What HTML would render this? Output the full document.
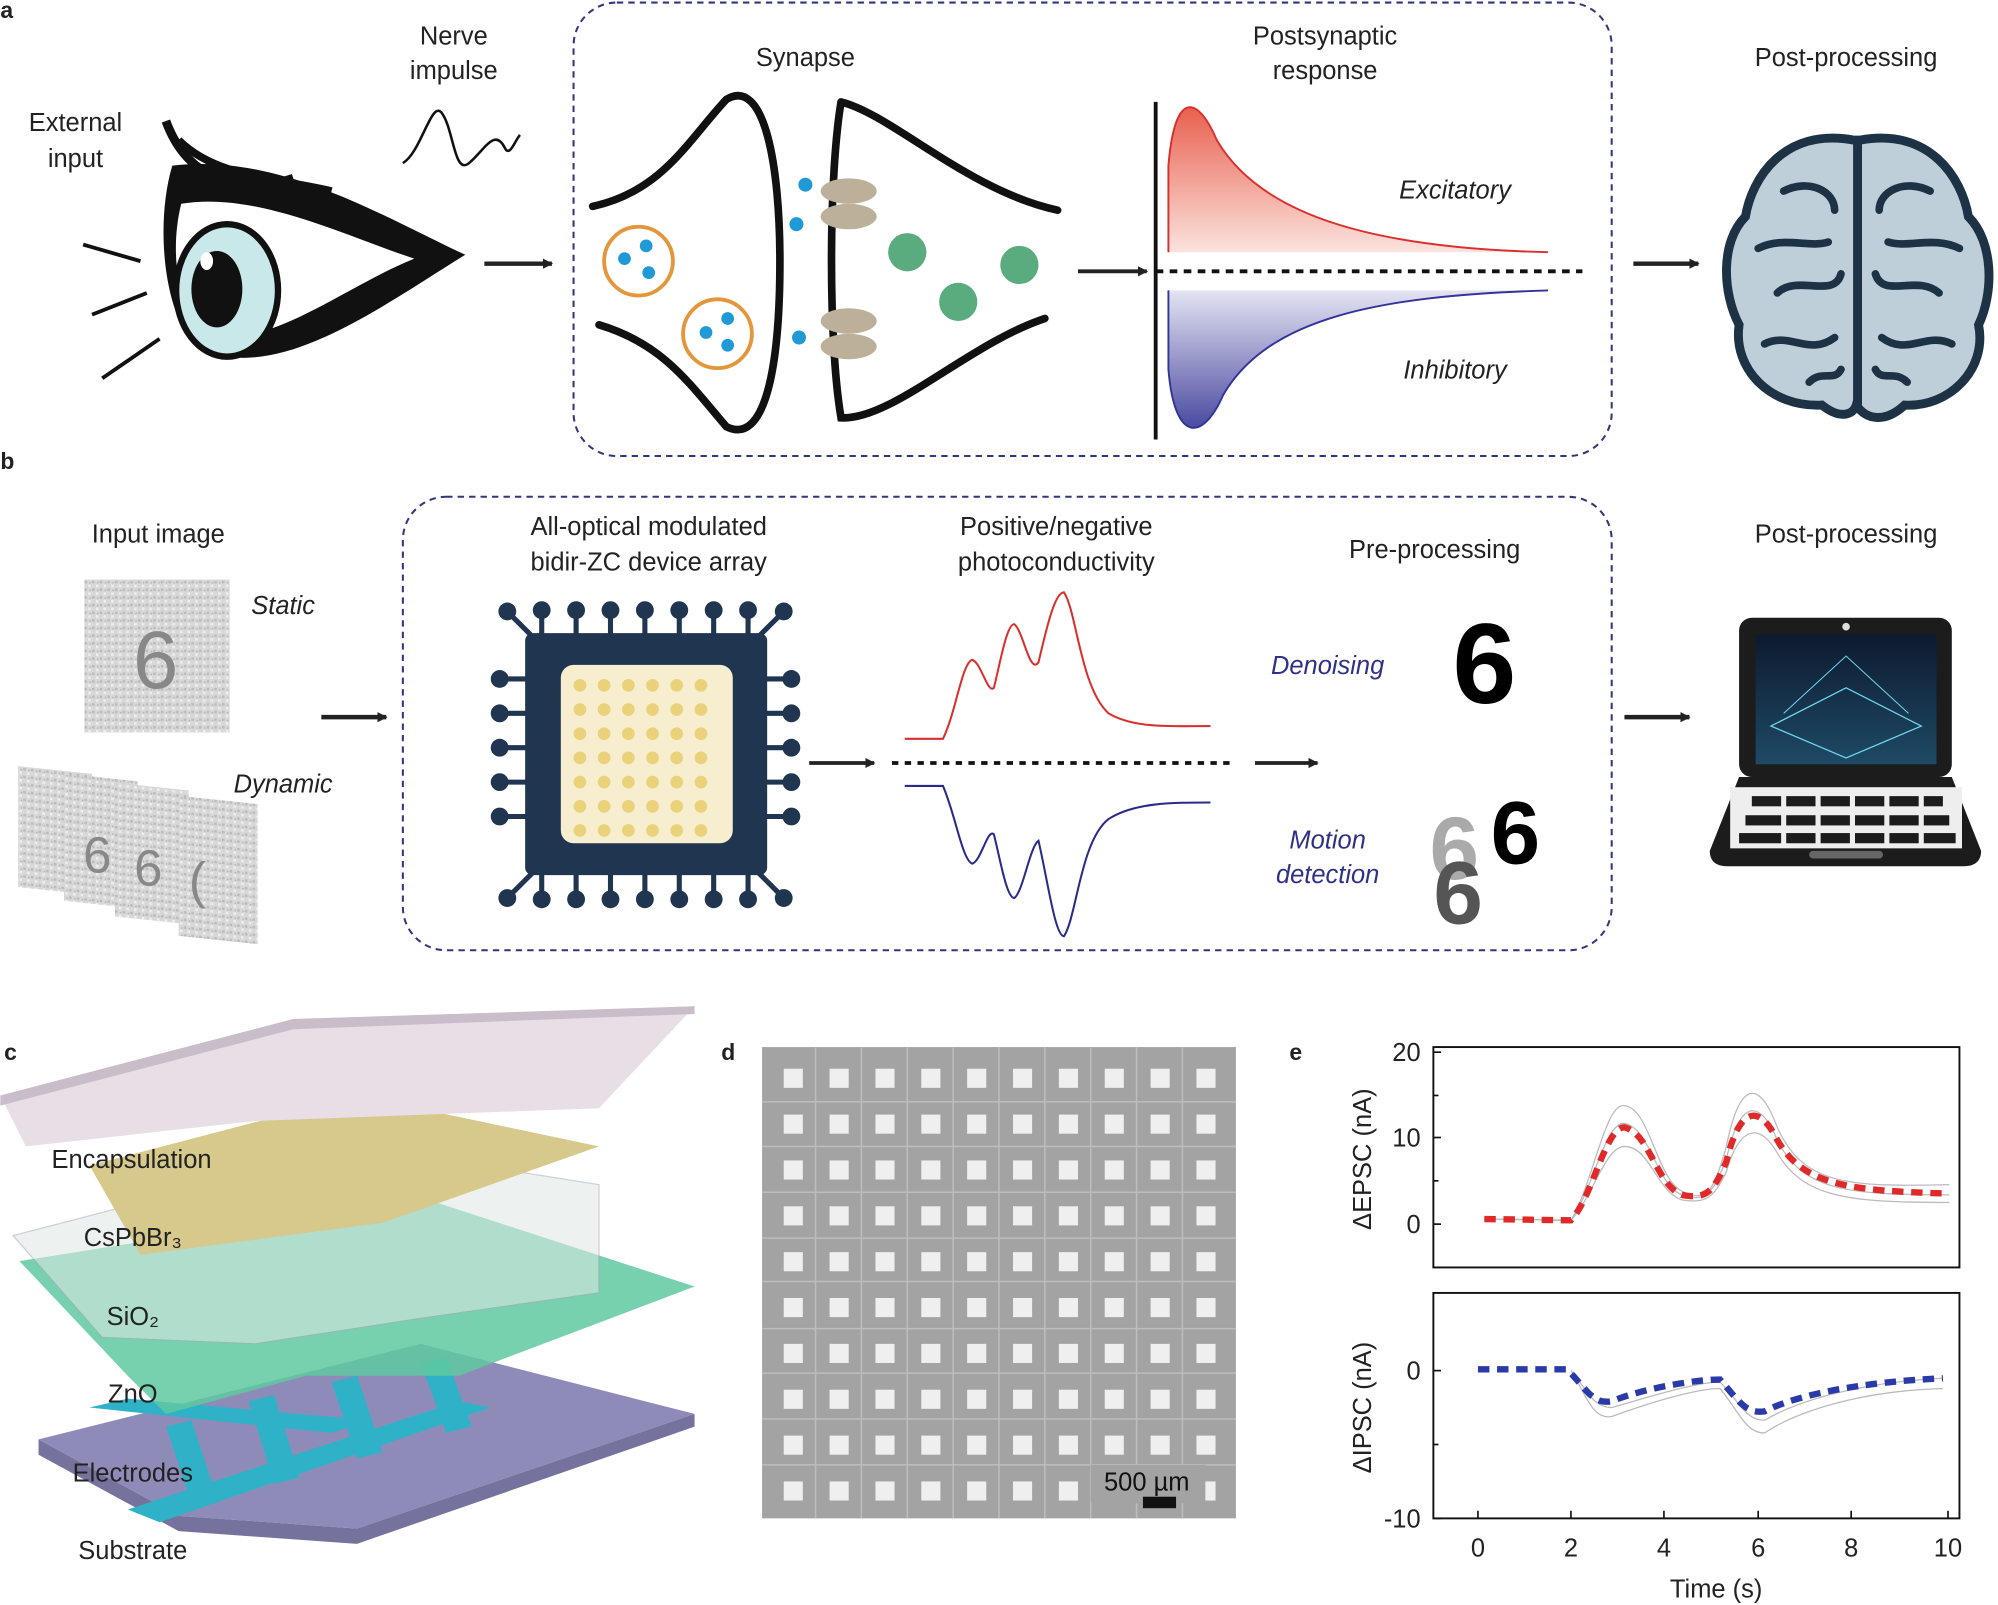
<!DOCTYPE html>
<html><head><meta charset="utf-8"><style>
html,body{margin:0;padding:0;background:#fff}
svg{display:block}
text{font-family:"Liberation Sans",Arial,sans-serif;fill:#222}
</style></head><body>
<svg width="1998" height="1605" viewBox="0 0 1568 1260" xmlns="http://www.w3.org/2000/svg">
<defs>
<marker id="ar" markerWidth="8" markerHeight="8" refX="7" refY="4" orient="auto" markerUnits="userSpaceOnUse"><path d="M0,0 L8,4 L0,8 z" fill="#222"/></marker>
<linearGradient id="exc" x1="0" y1="0" x2="0" y2="1"><stop offset="0" stop-color="#e8604f"/><stop offset="1" stop-color="#fbe3de"/></linearGradient>
<linearGradient id="inh" x1="0" y1="1" x2="0" y2="0"><stop offset="0" stop-color="#4a4aa0"/><stop offset="1" stop-color="#e4e4f3"/></linearGradient>
<linearGradient id="scr" x1="0" y1="0" x2="0" y2="1"><stop offset="0" stop-color="#0d1a2e"/><stop offset="1" stop-color="#1e4a66"/></linearGradient>
<pattern id="noise" width="6" height="6" patternUnits="userSpaceOnUse"><rect width="6" height="6" fill="#d8d8d8"/><rect width="2" height="2" fill="#bbb"/><rect x="3" y="3" width="2" height="2" fill="#eee"/><rect x="4" y="1" width="1" height="1" fill="#aaa"/></pattern>
</defs>

<text x="0" y="14" font-size="18" font-weight="bold">a</text>
<text x="0" y="368" font-size="18" font-weight="bold">b</text>
<text x="3" y="832" font-size="18" font-weight="bold">c</text>
<text x="566" y="832" font-size="18" font-weight="bold">d</text>
<text x="1012" y="832" font-size="18" font-weight="bold">e</text>

<text x="59" y="103" font-size="20" text-anchor="middle">External</text>
<text x="59" y="131" font-size="20" text-anchor="middle">input</text>
<text x="356" y="35" font-size="20" text-anchor="middle">Nerve</text>
<text x="356" y="62" font-size="20" text-anchor="middle">impulse</text>
<path d="M316,128 C330,120 338,80 346,88 C356,100 356,138 368,128 C380,118 388,100 396,116 C400,124 404,110 408,106" stroke="#111" stroke-width="2" fill="none"/>
<g stroke="#111" stroke-width="3"><line x1="65" y1="192" x2="110" y2="205"/><line x1="72" y1="247" x2="115" y2="230"/><line x1="80" y1="297" x2="125" y2="266"/></g>
<path d="M135,130 C220,120 300,170 365,200 C300,240 220,300 160,275 C130,260 120,180 135,130 z" fill="#111"/>
<path d="M142,160 C200,150 270,185 325,203 C270,225 210,275 165,262 C140,250 132,200 142,160 z" fill="#fff"/>
<ellipse cx="178" cy="228" rx="40" ry="52" fill="#c9e8ea" stroke="#111" stroke-width="5"/>
<ellipse cx="170" cy="227" rx="20" ry="30" fill="#111"/>
<ellipse cx="162" cy="205" rx="5" ry="7" fill="#fff"/>
<path d="M130,95 C150,150 200,150 230,140" stroke="#111" stroke-width="7" fill="none"/>
<path d="M140,110 C170,140 220,140 260,150" stroke="#111" stroke-width="6" fill="none"/>
<line x1="380" y1="207" x2="433" y2="207" stroke="#222" stroke-width="3.5" marker-end="url(#ar)"/>

<rect x="450" y="2" width="815" height="356" rx="34" fill="none" stroke="#33367a" stroke-width="1.6" stroke-dasharray="5,4"/>
<text x="632" y="52" font-size="20" text-anchor="middle">Synapse</text>
<text x="1040" y="35" font-size="20" text-anchor="middle">Postsynaptic</text>
<text x="1040" y="62" font-size="20" text-anchor="middle">response</text>
<path d="M465,162 C520,150 540,110 570,78 C600,60 612,130 612,205 C612,290 600,350 570,335 C540,300 520,270 470,255" stroke="#111" stroke-width="6" fill="none" stroke-linecap="round"/>
<path d="M660,80 C650,140 650,270 660,328 C700,330 760,270 820,250 M660,80 C700,90 760,150 830,165" stroke="#111" stroke-width="6" fill="none" stroke-linecap="round"/>
<circle cx="501" cy="205" r="27" fill="none" stroke="#e3963a" stroke-width="3"/>
<circle cx="563" cy="262" r="27" fill="none" stroke="#e3963a" stroke-width="3"/>
<g fill="#1f9ad6"><circle cx="490" cy="203" r="5"/><circle cx="507" cy="193" r="5"/><circle cx="509" cy="214" r="5"/><circle cx="554" cy="261" r="5"/><circle cx="571" cy="250" r="5"/><circle cx="571" cy="271" r="5"/><circle cx="632" cy="145" r="5.5"/><circle cx="625" cy="176" r="5.5"/><circle cx="627" cy="265" r="5.5"/></g>
<g fill="#bdb09a"><ellipse cx="666" cy="150" rx="22" ry="10"/><ellipse cx="666" cy="170" rx="22" ry="10"/><ellipse cx="666" cy="252" rx="22" ry="10"/><ellipse cx="666" cy="272" rx="22" ry="10"/></g>
<g fill="#5aac7e"><circle cx="712" cy="198" r="15"/><circle cx="800" cy="208" r="15"/><circle cx="752" cy="237" r="15"/></g>
<line x1="846" y1="213" x2="900" y2="213" stroke="#222" stroke-width="3" marker-end="url(#ar)"/>
<path d="M917,198 L917,130 C922,70 940,75 955,110 C990,170 1080,195 1215,198 L1215,198 z" fill="url(#exc)"/>
<path d="M917,198 L917,130 C922,70 940,75 955,110 C990,170 1080,195 1215,198" stroke="#d8302e" stroke-width="1.5" fill="none"/>
<path d="M917,228 L917,290 C922,350 945,345 960,310 C995,250 1080,232 1215,228 z" fill="url(#inh)"/>
<path d="M917,228 L917,290 C922,350 945,345 960,310 C995,250 1080,232 1215,228" stroke="#33339a" stroke-width="1.5" fill="none"/>
<line x1="907" y1="80" x2="907" y2="345" stroke="#111" stroke-width="3"/>
<line x1="907" y1="213" x2="1242" y2="213" stroke="#111" stroke-width="3" stroke-dasharray="6,5"/>
<text x="1142" y="156" font-size="20" font-style="italic" text-anchor="middle">Excitatory</text>
<text x="1142" y="297" font-size="20" font-style="italic" text-anchor="middle">Inhibitory</text>
<line x1="1282" y1="207" x2="1333" y2="207" stroke="#222" stroke-width="3.5" marker-end="url(#ar)"/>
<text x="1449" y="52" font-size="20" text-anchor="middle">Post-processing</text>
<g>
<path d="M1455,110 C1400,100 1375,140 1370,170 C1350,190 1352,230 1365,255 C1360,290 1390,320 1430,318 C1445,330 1455,325 1457,318 C1465,330 1480,332 1495,318 C1530,320 1560,290 1553,255 C1565,230 1565,190 1545,170 C1540,140 1515,100 1460,110 z" fill="#bfcfda" stroke="#1d3345" stroke-width="7"/>
<line x1="1458" y1="112" x2="1458" y2="318" stroke="#1d3345" stroke-width="7"/>
<g stroke="#1d3345" stroke-width="6" fill="none" stroke-linecap="round">
<path d="M1400,150 C1420,140 1440,150 1440,165"/><path d="M1380,195 C1400,185 1420,195 1435,190"/><path d="M1395,230 C1410,215 1440,235 1445,215"/><path d="M1385,270 C1405,260 1420,280 1440,265"/><path d="M1420,300 C1430,290 1440,300 1445,290"/>
<path d="M1515,150 C1495,140 1475,150 1475,165"/><path d="M1538,195 C1518,185 1498,195 1482,190"/><path d="M1522,230 C1505,215 1478,235 1472,215"/><path d="M1532,270 C1512,260 1497,280 1477,265"/><path d="M1497,300 C1487,290 1477,300 1472,290"/>
</g></g>

<text x="124" y="426" font-size="20" text-anchor="middle">Input image</text>
<rect x="66" y="455" width="114" height="120" fill="url(#noise)"/>
<text x="122" y="540" font-size="64" text-anchor="middle" style="fill:#888">6</text>
<text x="222" y="482" font-size="20" font-style="italic" text-anchor="middle">Static</text>
<text x="222" y="622" font-size="20" font-style="italic" text-anchor="middle">Dynamic</text>
<g>
<rect x="14" y="605" width="58" height="95" fill="url(#noise)" transform="skewY(6) translate(0,-5)"/>
<rect x="50" y="612" width="58" height="100" fill="url(#noise)" transform="skewY(6) translate(0,-10)"/>
<rect x="90" y="620" width="58" height="105" fill="url(#noise)" transform="skewY(6) translate(0,-15)"/>
<rect x="140" y="630" width="62" height="110" fill="url(#noise)" transform="skewY(6) translate(0,-20)"/>
<text x="65" y="685" font-size="40" style="fill:#888">6</text><text x="105" y="695" font-size="40" style="fill:#888">6</text><text x="148" y="705" font-size="40" style="fill:#888">(</text>
</g>
<line x1="252" y1="563" x2="303" y2="563" stroke="#222" stroke-width="3.5" marker-end="url(#ar)"/>
<rect x="316" y="390" width="949" height="356" rx="34" fill="none" stroke="#33367a" stroke-width="1.6" stroke-dasharray="5,4"/>
<text x="509" y="420" font-size="20" text-anchor="middle">All-optical modulated</text>
<text x="509" y="448" font-size="20" text-anchor="middle">bidir-ZC device array</text>
<text x="829" y="420" font-size="20" text-anchor="middle">Positive/negative</text>
<text x="829" y="448" font-size="20" text-anchor="middle">photoconductivity</text>
<text x="1126" y="438" font-size="20" text-anchor="middle">Pre-processing</text>
<g fill="#1f3550" stroke="#1f3550">
<g stroke-width="4">
<line x1="425" y1="480" x2="425" y2="505"/><line x1="452" y1="480" x2="452" y2="505"/><line x1="479" y1="480" x2="479" y2="505"/><line x1="506" y1="480" x2="506" y2="505"/><line x1="533" y1="480" x2="533" y2="505"/><line x1="560" y1="480" x2="560" y2="505"/><line x1="587" y1="480" x2="587" y2="505"/>
<line x1="425" y1="680" x2="425" y2="705"/><line x1="452" y1="680" x2="452" y2="705"/><line x1="479" y1="680" x2="479" y2="705"/><line x1="506" y1="680" x2="506" y2="705"/><line x1="533" y1="680" x2="533" y2="705"/><line x1="560" y1="680" x2="560" y2="705"/><line x1="587" y1="680" x2="587" y2="705"/>
<line x1="392" y1="533" x2="420" y2="533"/><line x1="392" y1="560" x2="420" y2="560"/><line x1="392" y1="587" x2="420" y2="587"/><line x1="392" y1="614" x2="420" y2="614"/><line x1="392" y1="641" x2="420" y2="641"/>
<line x1="595" y1="533" x2="620" y2="533"/><line x1="595" y1="560" x2="620" y2="560"/><line x1="595" y1="587" x2="620" y2="587"/><line x1="595" y1="614" x2="620" y2="614"/><line x1="595" y1="641" x2="620" y2="641"/>
<line x1="398" y1="480" x2="420" y2="502"/><line x1="615" y1="480" x2="593" y2="502"/><line x1="398" y1="705" x2="420" y2="683"/><line x1="615" y1="705" x2="593" y2="683"/>
</g>
<g stroke="none">
<circle cx="425" cy="479" r="7"/><circle cx="452" cy="479" r="7"/><circle cx="479" cy="479" r="7"/><circle cx="506" cy="479" r="7"/><circle cx="533" cy="479" r="7"/><circle cx="560" cy="479" r="7"/><circle cx="587" cy="479" r="7"/>
<circle cx="425" cy="706" r="7"/><circle cx="452" cy="706" r="7"/><circle cx="479" cy="706" r="7"/><circle cx="506" cy="706" r="7"/><circle cx="533" cy="706" r="7"/><circle cx="560" cy="706" r="7"/><circle cx="587" cy="706" r="7"/>
<circle cx="392" cy="533" r="7"/><circle cx="392" cy="560" r="7"/><circle cx="392" cy="587" r="7"/><circle cx="392" cy="614" r="7"/><circle cx="392" cy="641" r="7"/>
<circle cx="621" cy="533" r="7"/><circle cx="621" cy="560" r="7"/><circle cx="621" cy="587" r="7"/><circle cx="621" cy="614" r="7"/><circle cx="621" cy="641" r="7"/>
<circle cx="398" cy="480" r="7"/><circle cx="615" cy="480" r="7"/><circle cx="398" cy="705" r="7"/><circle cx="615" cy="705" r="7"/>
<rect x="412" y="497" width="190" height="190" rx="6"/>
</g></g>
<rect x="440" y="522" width="135" height="140" rx="10" fill="#f7eed0"/>
<g fill="#ead27b" id="dr">
<circle cx="455" cy="538" r="5"/><circle cx="474" cy="538" r="5"/><circle cx="493" cy="538" r="5"/><circle cx="512" cy="538" r="5"/><circle cx="531" cy="538" r="5"/><circle cx="550" cy="538" r="5"/>
</g>
<use href="#dr" y="19"/><use href="#dr" y="38"/><use href="#dr" y="57"/><use href="#dr" y="76"/><use href="#dr" y="95"/><use href="#dr" y="114"/>
<line x1="635" y1="599" x2="686" y2="599" stroke="#222" stroke-width="3" marker-end="url(#ar)"/>
<path d="M710,580 L740,580 C750,560 755,520 763,518 C770,520 775,545 780,540 C785,520 790,490 796,490 C803,495 808,530 815,520 C822,490 828,465 835,465 C845,480 848,540 870,560 C890,572 920,570 950,570" stroke="#d8302e" stroke-width="1.6" fill="none"/>
<path d="M710,617 L740,617 C750,640 755,675 763,678 C770,676 775,650 780,655 C785,675 790,705 796,705 C803,700 808,665 815,660 C822,690 828,735 835,735 C845,720 848,660 870,643 C890,630 920,630 950,630" stroke="#2a2a8a" stroke-width="1.6" fill="none"/>
<line x1="700" y1="599" x2="970" y2="599" stroke="#111" stroke-width="3" stroke-dasharray="5,5"/>
<line x1="985" y1="599" x2="1034" y2="599" stroke="#222" stroke-width="3" marker-end="url(#ar)"/>
<text x="1042" y="529" font-size="20" font-style="italic" text-anchor="middle" style="fill:#2d3187">Denoising</text>
<text x="1042" y="666" font-size="20" font-style="italic" text-anchor="middle" style="fill:#2d3187">Motion</text>
<text x="1042" y="693" font-size="20" font-style="italic" text-anchor="middle" style="fill:#2d3187">detection</text>
<text x="1165" y="552" font-size="90" font-weight="bold" text-anchor="middle" style="fill:#000">6</text>
<text x="1122" y="690" font-size="70" font-weight="bold" style="fill:#aaa">6</text>
<text x="1170" y="678" font-size="70" font-weight="bold" style="fill:#000">6</text>
<text x="1125" y="725" font-size="70" font-weight="bold" style="fill:#555">6</text>
<line x1="1275" y1="563" x2="1326" y2="563" stroke="#222" stroke-width="3.5" marker-end="url(#ar)"/>
<text x="1449" y="426" font-size="20" text-anchor="middle">Post-processing</text>
<rect x="1365" y="485" width="167" height="125" rx="10" fill="#1c1c1c"/>
<rect x="1378" y="498" width="142" height="102" fill="url(#scr)"/>
<circle cx="1449" cy="492" r="3" fill="#ddd"/>
<path d="M1390,570 L1449,540 L1508,570 L1449,595 z" fill="none" stroke="#6fd7f0" stroke-width="1"/>
<path d="M1400,560 L1449,515 L1498,560" fill="none" stroke="#6fd7f0" stroke-width="0.8"/>
<path d="M1365,610 L1532,610 L1555,668 C1555,676 1550,680 1542,680 L1355,680 C1347,680 1342,676 1342,668 z" fill="#1c1c1c"/>
<rect x="1358" y="618" width="182" height="48" fill="#eee"/>
<g fill="#1c1c1c"><rect x="1375" y="625" width="150" height="8"/><rect x="1370" y="640" width="160" height="8"/><rect x="1365" y="654" width="170" height="8"/></g>
<g fill="#eee"><rect x="1398" y="622" width="4" height="42"/><rect x="1425" y="622" width="4" height="42"/><rect x="1452" y="622" width="4" height="42"/><rect x="1479" y="622" width="4" height="42"/><rect x="1506" y="622" width="4" height="42"/></g>
<rect x="1420" y="668" width="58" height="6" rx="3" fill="#666"/>

<polygon points="30,1130 330,1055 545,1110 280,1200 140,1190" fill="#8f8bb8"/>
<polygon points="30,1130 140,1190 280,1200 545,1110 545,1120 280,1212 140,1202 30,1142" fill="#76729e"/>
<g fill="#2fb2c8">
<polygon points="70,1105 100,1098 290,1115 260,1125"/>
<polygon points="100,1185 360,1100 385,1105 125,1195"/>
<polygon points="130,1120 150,1115 170,1175 150,1180"/><polygon points="195,1100 215,1095 235,1160 215,1165"/><polygon points="260,1085 280,1080 300,1140 280,1145"/><polygon points="330,1070 350,1065 370,1120 350,1125"/>
</g>
<polygon points="15,990 330,940 545,1010 360,1080 240,1080 130,1110 100,1080" fill="#5fc9a0" opacity="0.85"/>
<polygon points="10,970 280,900 470,930 470,1015 330,1035 200,1055 80,1050" fill="#dfe8e6" opacity="0.55" stroke="#aab" stroke-width="1"/>
<polygon points="70,915 280,860 470,900 300,960 110,985" fill="#d6c98b"/>
<polygon points="0,860 230,800 545,790 470,870 200,880 20,900" fill="#e7dfe5"/>
<polygon points="0,860 230,800 545,790 545,796 230,808 0,868" fill="#c8bdc9"/>
<text x="103" y="917" font-size="20" text-anchor="middle">Encapsulation</text>
<text x="104" y="978" font-size="20" text-anchor="middle">CsPbBr₃</text>
<text x="104" y="1040" font-size="20" text-anchor="middle">SiO₂</text>
<text x="104" y="1101" font-size="20" text-anchor="middle">ZnO</text>
<text x="104" y="1163" font-size="20" text-anchor="middle">Electrodes</text>
<text x="104" y="1224" font-size="20" text-anchor="middle">Substrate</text>

<rect x="598" y="822" width="372" height="370" fill="#a3a3a3"/>
<g stroke="#bdbdbd" stroke-width="1.2">
<line x1="598" y1="1006" x2="970" y2="1006"/><line x1="784" y1="822" x2="784" y2="1192"/>
<line x1="598" y1="865" x2="970" y2="865"/><line x1="598" y1="900" x2="970" y2="900"/><line x1="598" y1="936" x2="970" y2="936"/><line x1="598" y1="972" x2="970" y2="972"/><line x1="598" y1="1043" x2="970" y2="1043"/><line x1="598" y1="1078" x2="970" y2="1078"/><line x1="598" y1="1114" x2="970" y2="1114"/><line x1="598" y1="1150" x2="970" y2="1150"/>
<line x1="640" y1="822" x2="640" y2="1192"/><line x1="676" y1="822" x2="676" y2="1192"/><line x1="712" y1="822" x2="712" y2="1192"/><line x1="748" y1="822" x2="748" y2="1192"/><line x1="820" y1="822" x2="820" y2="1192"/><line x1="856" y1="822" x2="856" y2="1192"/><line x1="892" y1="822" x2="892" y2="1192"/><line x1="928" y1="822" x2="928" y2="1192"/>
</g>
<g fill="#efefef" id="sq">
<rect x="615" y="839" width="15" height="15"/><rect x="651" y="839" width="15" height="15"/><rect x="687" y="839" width="15" height="15"/><rect x="723" y="839" width="15" height="15"/><rect x="759" y="839" width="15" height="15"/><rect x="795" y="839" width="15" height="15"/><rect x="831" y="839" width="15" height="15"/><rect x="867" y="839" width="15" height="15"/><rect x="903" y="839" width="15" height="15"/><rect x="939" y="839" width="15" height="15"/>
</g>
<use href="#sq" y="36"/><use href="#sq" y="72"/><use href="#sq" y="108"/><use href="#sq" y="144"/><use href="#sq" y="180"/><use href="#sq" y="216"/><use href="#sq" y="252"/><use href="#sq" y="288"/><use href="#sq" y="324"/>
<rect x="856" y="1150" width="90" height="30" fill="#a3a3a3"/>
<text x="900" y="1170" font-size="20" text-anchor="middle" style="fill:#111">500 µm</text>
<rect x="897" y="1175" width="26" height="9" fill="#111"/>

<rect x="1125" y="822" width="413" height="173" fill="none" stroke="#111" stroke-width="1.5"/>
<rect x="1125" y="1015" width="413" height="177" fill="none" stroke="#111" stroke-width="1.5"/>
<g stroke="#111" stroke-width="1.3">
<line x1="1125" y1="826" x2="1131" y2="826"/><line x1="1125" y1="893" x2="1131" y2="893"/><line x1="1125" y1="961" x2="1131" y2="961"/><line x1="1125" y1="860" x2="1129" y2="860"/><line x1="1125" y1="927" x2="1129" y2="927"/>
<line x1="1125" y1="1076" x2="1131" y2="1076"/><line x1="1125" y1="1134" x2="1129" y2="1134"/><line x1="1125" y1="1192" x2="1131" y2="1192"/>
<line x1="1160" y1="1192" x2="1160" y2="1186"/><line x1="1233" y1="1192" x2="1233" y2="1186"/><line x1="1306" y1="1192" x2="1306" y2="1186"/><line x1="1380" y1="1192" x2="1380" y2="1186"/><line x1="1453" y1="1192" x2="1453" y2="1186"/><line x1="1529" y1="1192" x2="1529" y2="1186"/>
</g>
<g font-size="20" text-anchor="end">
<text x="1115" y="833">20</text><text x="1115" y="900">10</text><text x="1115" y="968">0</text>
<text x="1115" y="1083">0</text><text x="1115" y="1199">-10</text>
</g>
<g font-size="20" text-anchor="middle">
<text x="1160" y="1222">0</text><text x="1233" y="1222">2</text><text x="1306" y="1222">4</text><text x="1380" y="1222">6</text><text x="1453" y="1222">8</text><text x="1529" y="1222">10</text>
<text x="1347" y="1254">Time (s)</text>
</g>
<text transform="translate(1076,910) rotate(-90)" font-size="20" text-anchor="middle">ΔEPSC (nA)</text>
<text transform="translate(1076,1105) rotate(-90)" font-size="20" text-anchor="middle">ΔIPSC (nA)</text>
<g fill="none" stroke="#bbb" stroke-width="1">
<path d="M1165,957 L1233,958 C1250,930 1260,865 1275,868 C1295,870 1300,925 1320,935 C1340,945 1345,935 1355,900 C1365,850 1380,845 1395,885 C1415,930 1450,932 1530,930"/>
<path d="M1165,957 L1233,958 C1250,935 1260,880 1275,882 C1295,885 1300,930 1320,938 C1340,945 1345,935 1355,910 C1365,865 1380,860 1395,895 C1415,935 1450,938 1530,938"/>
<path d="M1165,957 L1233,958 C1250,940 1260,900 1275,900 C1295,900 1300,935 1320,942 C1340,945 1345,940 1355,920 C1365,885 1380,880 1395,905 C1415,940 1450,944 1530,944"/>
<path d="M1233,1076 C1245,1090 1250,1105 1265,1105 C1290,1098 1330,1085 1350,1085 C1365,1100 1370,1115 1385,1115 C1410,1100 1460,1085 1525,1082"/>
<path d="M1233,1076 C1245,1095 1250,1115 1265,1112 C1290,1103 1330,1090 1350,1090 C1365,1108 1370,1125 1385,1125 C1410,1108 1460,1092 1525,1090"/>
</g>
<path d="M1165,957 L1233,958 C1250,940 1260,885 1275,885 C1295,890 1300,930 1320,938 C1340,942 1345,935 1355,912 C1365,870 1380,865 1395,895 C1415,930 1450,935 1530,937" fill="none" stroke="#e02a2a" stroke-width="5" stroke-dasharray="9,6"/>
<path d="M1160,1075 L1230,1075 C1245,1090 1250,1103 1265,1100 C1290,1090 1330,1083 1350,1083 C1365,1100 1370,1110 1385,1108 C1410,1095 1460,1085 1525,1082" fill="none" stroke="#2a3aa8" stroke-width="5" stroke-dasharray="9,6"/>
</svg>
</body></html>
